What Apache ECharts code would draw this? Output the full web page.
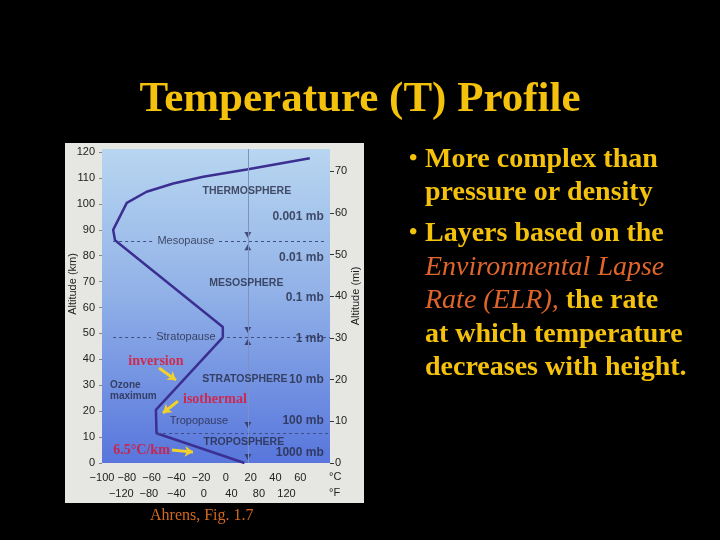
<!DOCTYPE html>
<html><head><meta charset="utf-8">
<script src="https://cdn.jsdelivr.net/npm/echarts@6/dist/echarts.min.js"></script>
<style>html,body{margin:0;padding:0;background:#000;}#c{width:720px;height:540px;}</style>
</head><body><div id="c"></div>
<script>
// ---- data ----
const profileTempC = [15, -56, -56.5, -2.5, -2.5, -89.5, -91, -80, -64, -42.5, -18.3, 16.7, 67.7];
const profileAltKm = [0, 11.5, 20.5, 48.5, 52.5, 86, 90, 100.4, 104.7, 107.9, 110.5, 113.3, 117.6];
const celsiusTicks = [-100, -80, -60, -40, -20, 0, 20, 40, 60];
const fahrenheitTicks = [-120, -80, -40, 0, 40, 80, 120];
const layerNames = ['THERMOSPHERE', 'MESOSPHERE', 'STRATOSPHERE', 'TROPOSPHERE'];
const layerPos = [[16.9, 104.9], [16.5, 69.4], [15.3, 32.4], [14.5, 8.1]];
const pauseNames = ['Mesopause', 'Stratopause', 'Tropopause'];
const pausePos = [[-32.3, 85.6], [-32.3, 48.6], [-21.8, 16.2]];
const pressureLabels = ['0.001 mb', '0.01 mb', '0.1 mb', '1 mb', '10 mb', '100 mb', '1000 mb'];
const pressureAlt = [94.9, 79.1, 63.7, 47.8, 32.0, 16.2, 3.9];
const pressureTempAnchor = 79;
const redNotes = ['inversion', 'isothermal', '6.5°C/km'];
const redNotePos = [[-56.5, 39.4], [-8.9, 24.7], [-68.1, 5.0]];
const noteArrows = [[[-54, 36.7], [-40.3, 32.0]], [[-38.7, 23.9], [-50.8, 19.3]], [[-43.5, 5.0], [-26.6, 4.2]]];
const ozoneNote = 'Ozone\nmaximum';
const ozonePos = [-93.5, 28];
const pauseDash = [
  [[-91, 85.6], [-59, 85.6]], [[-5.6, 85.6], [81.5, 85.6]],
  [[-91, 48.6], [-60.5, 48.6]], [[-4, 48.6], [84, 48.6]],
  [[-55.6, 11.6], [84, 11.6]]
];
const markerTemp = 17.7;
const downMarkers = [88, 51.3, 14.7, 2.3];
const upMarkers = [83.3, 46.7];
const bullets = [
  ['• ', 'More complex than'],
  ['', 'pressure or density'],
  ['• ', 'Layers based on the'],
  ['', '{o|Environmental Lapse}'],
  ['', '{o|Rate (ELR),} the rate'],
  ['', 'at which temperature'],
  ['', 'decreases with height.']
];

// ---- layout / style ----
const C_MIN = -100, C_MAX = 84, ALT_MAX = 121.2;
const KM_PER_MI = 1.609344;
const sans = "'Liberation Sans', Arial, sans-serif";
const serif = "'Liberation Serif', 'Times New Roman', serif";
const gold = '#f4c20d';
const inkDark = '#252a45';

const chart = echarts.init(document.getElementById('c'));
const bulletY = [162, 195, 236, 270, 303, 337, 370];
const graphics = [
  { type: 'rect', z: -10, shape: { x: 65, y: 143, width: 299, height: 360 }, style: { fill: '#e6e6e2' } },
  { type: 'text', left: 329, top: 471, style: { text: '°C', font: '11px ' + sans, fill: '#222' } },
  { type: 'text', left: 329, top: 487, style: { text: '°F', font: '11px ' + sans, fill: '#222' } },
  { type: 'text', left: 150, top: 508, style: { text: 'Ahrens, Fig. 1.7', font: '16px ' + serif, fill: '#d2691e' } }
];
bullets.forEach((b, i) => {
  if (b[0]) {
    graphics.push({
      type: 'text', left: 409, top: bulletY[i] - 15,
      style: { text: '•', font: 'bold 24px ' + serif, fill: gold }
    });
  }
  graphics.push({
    type: 'text', left: 425, top: bulletY[i] - 16,
    style: {
      text: b[1], font: 'bold 28px ' + serif, fill: gold,
      rich: { o: { font: 'italic 28px ' + serif, fill: '#e0652a' } }
    }
  });
});

const lineData = profileTempC.map((t, i) => [t, profileAltKm[i]]);

function textSeries(name, data, label) {
  return {
    type: 'scatter', name, symbolSize: 0, silent: true, z: 5,
    data, label: Object.assign({ show: true, formatter: p => p.data.name }, label)
  };
}
const minusFmt = v => (v < 0 ? '\u2212' + Math.abs(v) : String(v));

chart.setOption({
  backgroundColor: '#000',
  animation: false,
  title: {
    text: 'Temperature (T) Profile', left: 'center', top: 73,
    textStyle: { fontFamily: serif, fontSize: 43, fontWeight: 'bold', color: gold }
  },
  graphic: graphics,
  grid: {
    left: 102, top: 149, right: 390, bottom: 77, show: true, borderWidth: 0,
    backgroundColor: new echarts.graphic.LinearGradient(0, 0, 0, 1, [
      { offset: 0, color: '#b8d6f0' },
      { offset: 0.45, color: '#92b2e8' },
      { offset: 1, color: '#5876dc' }
    ])
  },
  xAxis: [
    {
      type: 'value', min: C_MIN, max: C_MAX, position: 'bottom',
      axisLine: { show: false, onZero: false }, axisTick: { show: false }, splitLine: { show: false },
      axisLabel: { customValues: celsiusTicks, margin: 9, fontFamily: sans, fontSize: 11, color: '#222', formatter: minusFmt }
    },
    {
      type: 'value', min: C_MIN * 1.8 + 32, max: C_MAX * 1.8 + 32, position: 'bottom', offset: 16,
      axisLine: { show: false, onZero: false }, axisTick: { show: false }, splitLine: { show: false },
      axisLabel: { customValues: fahrenheitTicks, margin: 9, fontFamily: sans, fontSize: 11, color: '#222', formatter: minusFmt }
    }
  ],
  yAxis: [
    {
      type: 'value', min: 0, max: ALT_MAX, interval: 10, position: 'left',
      name: 'Altitude (km)', nameLocation: 'middle', nameGap: 24, nameMoveOverlap: false,
      nameTextStyle: { fontFamily: sans, fontSize: 11, color: '#222', padding: [0, 0, 0, 44] },
      axisLine: { show: false, onZero: false }, axisTick: { show: true, length: 3, lineStyle: { color: '#888' } },
      splitLine: { show: false },
      axisLabel: { margin: 7, fontFamily: sans, fontSize: 11, color: '#222', showMaxLabel: false }
    },
    {
      type: 'value', min: 0, max: ALT_MAX / KM_PER_MI, interval: 10, position: 'right',
      name: 'Altitude (mi)', nameLocation: 'middle', nameGap: 20, nameMoveOverlap: false,
      nameTextStyle: { fontFamily: sans, fontSize: 11, color: '#222', padding: [0, 0, 0, 20] },
      axisLine: { show: false, onZero: false }, axisTick: { show: true, length: 4, lineStyle: { color: '#333' } },
      splitLine: { show: false },
      axisLabel: { margin: 5, fontFamily: sans, fontSize: 11, color: '#222', showMaxLabel: false }
    }
  ],
  series: [
    {
      type: 'line', data: lineData, symbol: 'none', z: 4,
      lineStyle: { color: '#3b2f92', width: 2.5 },
      markLine: {
        silent: true, symbol: 'none', label: { show: false },
        lineStyle: { color: '#3c4f86', type: [3, 3], width: 1 },
        data: pauseDash.map(s => [{ coord: s[0] }, { coord: s[1] }])
          .concat([{ xAxis: markerTemp, lineStyle: { color: '#7f92bd', type: 'solid', width: 1 } }])
      }
    },
    {
      type: 'line', data: [], symbol: 'none', z: 6,
      markLine: {
        silent: true, symbol: ['none', 'arrow'], symbolSize: 8, label: { show: false },
        lineStyle: { color: '#f2d22a', width: 3, type: 'solid' },
        data: noteArrows.map(a => [{ coord: a[0] }, { coord: a[1] }])
      }
    },
    {
      type: 'scatter', symbol: 'triangle', symbolSize: [7, 6], symbolRotate: 180, silent: true,
      itemStyle: { color: '#2b3060' }, data: downMarkers.map(a => [markerTemp, a])
    },
    {
      type: 'scatter', symbol: 'triangle', symbolSize: [7, 6], silent: true,
      itemStyle: { color: '#2b3060' }, data: upMarkers.map(a => [markerTemp, a])
    },
    textSeries('layers', layerNames.map((n, i) => ({ name: n, value: layerPos[i] })),
      { position: 'inside', fontFamily: sans, fontSize: 10.5, fontWeight: 'bold', color: inkDark }),
    textSeries('pauses', pauseNames.map((n, i) => ({ name: n, value: pausePos[i] })),
      { position: 'inside', fontFamily: sans, fontSize: 11, color: inkDark }),
    textSeries('pressure', pressureLabels.map((n, i) => ({ name: n, value: [pressureTempAnchor, pressureAlt[i]] })),
      { position: 'left', distance: 0, fontFamily: sans, fontSize: 12, fontWeight: 'bold', color: inkDark }),
    textSeries('ozone', [{ name: ozoneNote, value: ozonePos }],
      { position: 'right', distance: 0, fontFamily: sans, fontSize: 10, fontWeight: 'bold', lineHeight: 11, color: inkDark }),
    textSeries('red', redNotes.map((n, i) => ({ name: n, value: redNotePos[i] })),
      { position: 'inside', fontFamily: serif, fontSize: 14, fontWeight: 'bold', color: '#e2102c' })
  ]
});
</script>
</body></html>
